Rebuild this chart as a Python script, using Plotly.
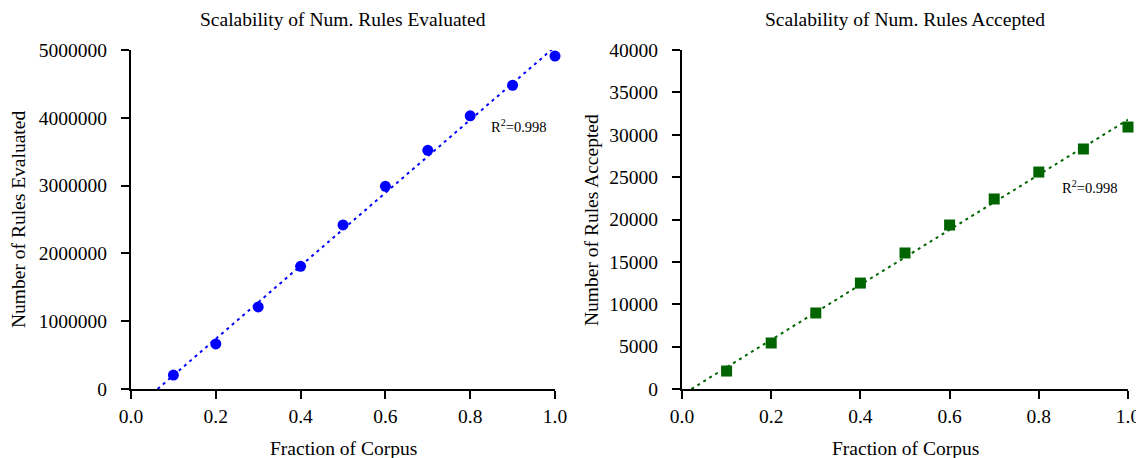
import numpy as np
import plotly.graph_objects as go

fraction = [0.1, 0.2, 0.3, 0.4, 0.5, 0.6, 0.7, 0.8, 0.9, 1.0]
rules_evaluated = [206000, 664000, 1210000, 1810000, 2420000, 2990000, 3520000, 4030000, 4480000, 4910000]
rules_accepted = [2120, 5430, 8970, 12500, 16050, 19350, 22420, 25600, 28320, 30910]

left_title = "Scalability of Num. Rules Evaluated"
right_title = "Scalability of Num. Rules Accepted"
x_title = "Fraction of Corpus"
left_ytitle = "Number of Rules Evaluated"
right_ytitle = "Number of Rules Accepted"
r2_text = "R<sup>2</sup>=0.998"

FONT = "Liberation Serif, Times New Roman, serif"
W, H = 1136, 450  # page body has an 8px margin


def fit_line(x, y):
    m, b = np.polyfit(x, y, 1)
    x0 = max(-b / m, 0.0)
    xs = np.linspace(x0, 1.0, 50)
    return xs, m * xs + b


def px(v):
    return (v - 8) / W


def py(v):
    return 1 - (v - 8) / H


fig = go.Figure()

xs, ys = fit_line(fraction, rules_evaluated)
fig.add_trace(go.Scatter(x=xs, y=ys, mode="lines", line=dict(color="blue", dash="3px,4px", width=2),
                         xaxis="x", yaxis="y", showlegend=False, hoverinfo="skip"))
fig.add_trace(go.Scatter(x=fraction, y=rules_evaluated, mode="markers",
                         marker=dict(color="blue", size=11, symbol="circle"),
                         xaxis="x", yaxis="y", showlegend=False, cliponaxis=False))

xs2, ys2 = fit_line(fraction, rules_accepted)
fig.add_trace(go.Scatter(x=xs2, y=ys2, mode="lines", line=dict(color="#006400", dash="3px,4px", width=2),
                         xaxis="x2", yaxis="y2", showlegend=False, hoverinfo="skip"))
fig.add_trace(go.Scatter(x=fraction, y=rules_accepted, mode="markers",
                         marker=dict(color="#006400", size=11, symbol="square"),
                         xaxis="x2", yaxis="y2", showlegend=False, cliponaxis=False))

axis_common = dict(showgrid=False, zeroline=False, showline=True, linecolor="black", linewidth=2,
                   ticks="outside", ticklen=8, tickwidth=2, tickcolor="black", automargin=False,
                   tickfont=dict(family=FONT, size=19.5, color="black"))

fig.update_layout(
    width=W, height=H,
    margin=dict(l=0, r=0, t=0, b=0, autoexpand=False),
    paper_bgcolor="white", plot_bgcolor="white",
    font=dict(family=FONT, color="black"),
    xaxis=dict(domain=[px(131), px(555)], range=[0, 1.0], dtick=0.2, tickformat=".1f",
               anchor="y", ticklabelstandoff=1, **axis_common),
    yaxis=dict(domain=[py(389), py(50)], range=[0, 5000000], dtick=1000000, tickformat="d",
               anchor="x", ticklabelstandoff=10, **axis_common),
    xaxis2=dict(domain=[px(682), px(1128)], range=[0, 1.0], dtick=0.2, tickformat=".1f",
                anchor="y2", ticklabelstandoff=1, **axis_common),
    yaxis2=dict(domain=[py(389), py(50)], range=[0, 40000], dtick=5000, tickformat="d",
                anchor="x2", ticklabelstandoff=10, **axis_common),
)

ann_font = dict(family=FONT, size=19.5, color="black")
fig.add_annotation(text=left_title, x=px(343), y=py(20), xref="paper", yref="paper",
                   xanchor="center", yanchor="middle", showarrow=False, font=ann_font)
fig.add_annotation(text=right_title, x=px(905), y=py(20), xref="paper", yref="paper",
                   xanchor="center", yanchor="middle", showarrow=False, font=ann_font)
fig.add_annotation(text=x_title, x=px(343), y=py(448), xref="paper", yref="paper",
                   xanchor="center", yanchor="middle", showarrow=False, font=ann_font)
fig.add_annotation(text=x_title, x=px(905), y=py(448), xref="paper", yref="paper",
                   xanchor="center", yanchor="middle", showarrow=False, font=ann_font)
fig.add_annotation(text=left_ytitle, x=px(19), y=py(220), xref="paper", yref="paper",
                   xanchor="center", yanchor="middle", textangle=-90, showarrow=False, font=ann_font)
fig.add_annotation(text=right_ytitle, x=px(592), y=py(220), xref="paper", yref="paper",
                   xanchor="center", yanchor="middle", textangle=-90, showarrow=False, font=ann_font)
fig.add_annotation(text=r2_text, x=0.915, y=3880000, xref="x", yref="y", showarrow=False,
                   xanchor="center", yanchor="middle", font=dict(family=FONT, size=14.5, color="black"))
fig.add_annotation(text=r2_text, x=0.915, y=23840, xref="x2", yref="y2", showarrow=False,
                   xanchor="center", yanchor="middle", font=dict(family=FONT, size=14.5, color="black"))

fig.write_html("out.html")
